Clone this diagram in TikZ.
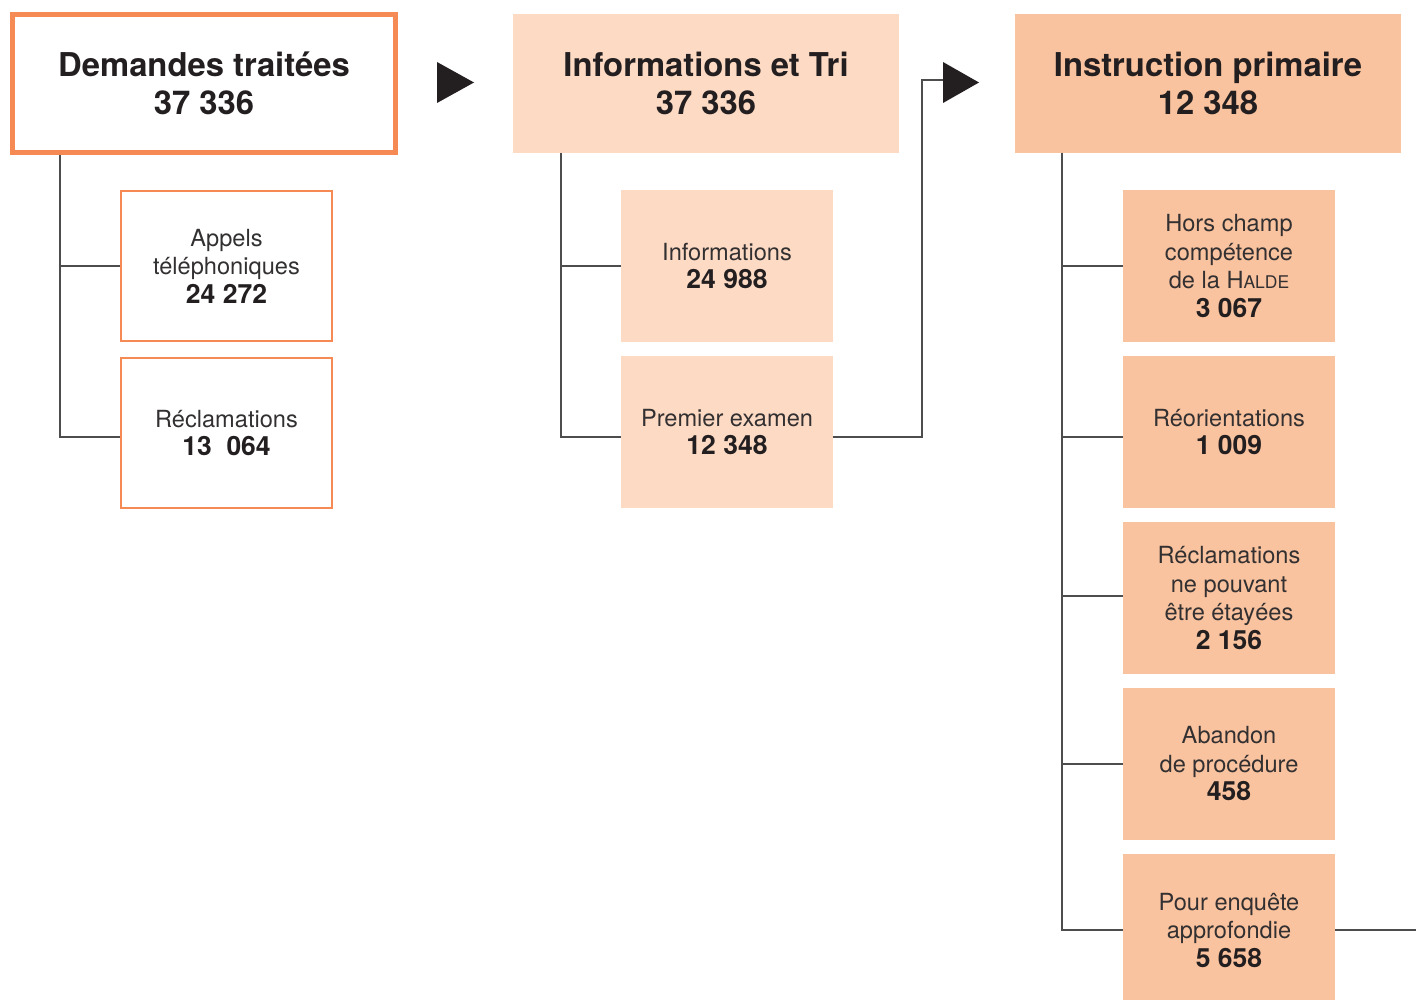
\documentclass[tikz,border=0pt]{standalone}
\usepackage{fontspec}
\setmainfont{TeX Gyre Heros}
\definecolor{orangeline}{HTML}{F58A55}
\definecolor{lightfill}{HTML}{FDDAC4}
\definecolor{midfill}{HTML}{FAC39F}
\definecolor{darktext}{HTML}{231F20}
\definecolor{greytext}{HTML}{333031}
\definecolor{treeline}{HTML}{4D4D4D}
\newcommand{\numtxt}[1]{{\fontsize{26.5}{30}\selectfont\bfseries\color{darktext}#1}}
\newcommand{\smallcapsfake}[1]{{\fontsize{17.5}{20}\selectfont #1}}
\tikzset{
  headbox/.style={rectangle, inner sep=0pt, minimum width=386pt, minimum height=139pt, align=center,
    font=\fontsize{32.8}{38}\selectfont\bfseries, text=darktext},
  subbox/.style={rectangle, inner sep=0pt, minimum width=212pt, minimum height=152pt, align=center,
    font=\fontsize{23.6}{28.5}\selectfont, text=greytext},
  tree/.style={draw=treeline, line width=1.4pt},
  tri/.style={fill=darktext, draw=none},
}
\begin{document}
\begin{tikzpicture}[x=1pt,y=-1pt]
\useasboundingbox (0,0) rectangle (1416,1000);
% Column 1
\node[headbox, draw=orangeline, line width=5pt, minimum width=383pt, minimum height=138pt, fill=white] (dem) at (204,83.5) {Demandes traitées\\37 336};
\node[subbox, draw=orangeline, line width=2pt, minimum width=211pt, minimum height=150pt] (app) at (226.5,266) {Appels\\téléphoniques\\\numtxt{24 272}};
\node[subbox, draw=orangeline, line width=2pt, minimum width=211pt, minimum height=150pt] (rec) at (226.5,433) {Réclamations\\\numtxt{13\ \ 064}};
\coordinate (t1) at (60,155);
\draw[tree] (t1) |- (app.west);
\draw[tree] (t1) |- ([yshift=-4pt]rec.west);
% Arrow 1
\fill[tri] (437,62) -- (474,82.5) -- (437,103) -- cycle;
% Column 2
\node[headbox, fill=lightfill] (info) at (706,83.5) {Informations et Tri\\37 336};
\node[subbox, fill=lightfill] (inf) at (727,266) {Informations\\\numtxt{24 988}};
\node[subbox, fill=lightfill] (pre) at (727,432) {Premier examen\\\numtxt{12 348}};
\coordinate (t2) at (561,153);
\draw[tree] (t2) |- (inf.west);
\draw[tree] (t2) |- ([yshift=-5pt]pre.west);
% Arrow 2
\coordinate (a2) at (944,80);
\coordinate (bend) at (922,80);
\draw[tree] ([yshift=-5pt]pre.east) -| (bend) -- (a2);
\fill[tri] (943,62) -- (979,82.5) -- (943,103) -- cycle;
% Column 3
\node[headbox, fill=midfill] (ins) at (1208,83.5) {Instruction primaire\\12 348};
\node[subbox, fill=midfill] (s1) at (1229,266) {Hors champ\\compétence\\de la H\smallcapsfake{ALDE}\\\numtxt{3 067}};
\node[subbox, fill=midfill] (s2) at (1229,432) {Réorientations\\\numtxt{1 009}};
\node[subbox, fill=midfill] (s3) at (1229,598) {Réclamations\\ne pouvant\\être étayées\\\numtxt{2 156}};
\node[subbox, fill=midfill] (s4) at (1229,764) {Abandon\\de procédure\\\numtxt{458}};
\node[subbox, fill=midfill] (s5) at (1229,930) {Pour enquête\\approfondie\\\numtxt{5 658}};
\coordinate (t3) at (1062,153);
\draw[tree] (t3) |- (s1.west);
\draw[tree] (t3) |- ([yshift=-5pt]s2.west);
\draw[tree] (t3) |- ([yshift=2pt]s3.west);
\draw[tree] (t3) |- (s4.west);
\draw[tree] (t3) |- (s5.west);
\coordinate (out) at (1416,930);
\draw[tree] (s5.east) -- (out);
\end{tikzpicture}
\end{document}
